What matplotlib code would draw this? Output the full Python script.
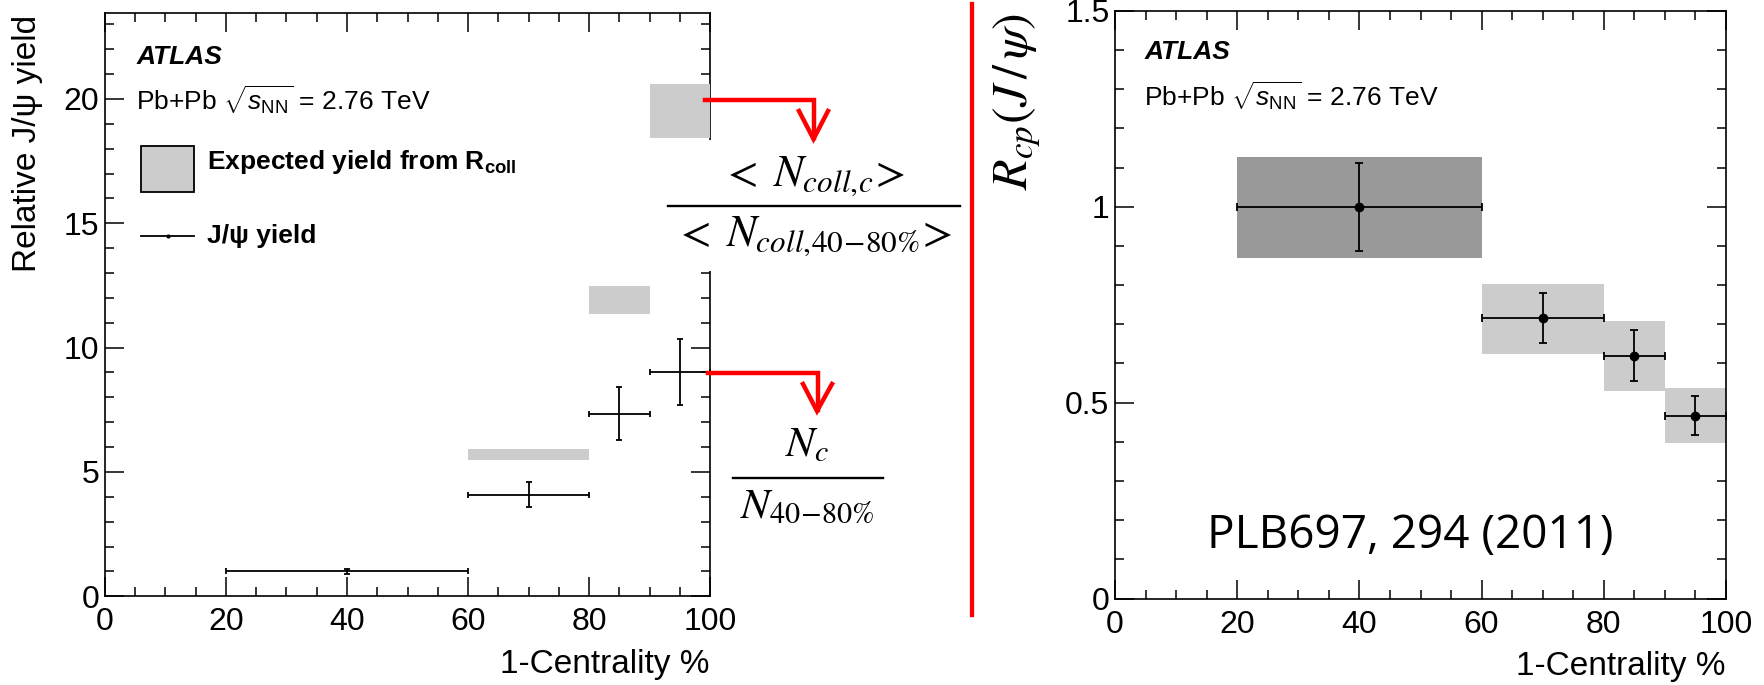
import matplotlib
matplotlib.use("Agg")
import matplotlib.pyplot as plt
import numpy as np
from matplotlib.lines import Line2D
from matplotlib.patches import Rectangle
from matplotlib.ticker import MultipleLocator, FormatStrFormatter

plt.rcParams['font.family'] = ['Liberation Sans', 'DejaVu Sans']
plt.rcParams['mathtext.fontset'] = 'custom'
plt.rcParams['mathtext.rm'] = 'Liberation Sans'
plt.rcParams['mathtext.it'] = 'Liberation Sans:italic'
plt.rcParams['mathtext.bf'] = 'Liberation Sans:bold'

# centrality bins (1-centrality %)
bin_lo = [20, 60, 80, 90]
bin_hi = [60, 80, 90, 100]
bin_mid = [40, 70, 85, 95]

# left panel: relative J/psi yield
yield_rel = [1.0, 4.08, 7.35, 9.02]
yield_err = [0.11, 0.50, 1.06, 1.32]

# expected yield from Rcoll (three central bins)
exp_lo = [60, 80, 90]
exp_hi = [80, 90, 100]
exp_ymin = [5.47, 11.34, 18.42]
exp_ymax = [5.94, 12.48, 20.58]

# right panel: Rcp(J/psi)
rcp = [1.0, 0.716, 0.620, 0.467]
rcp_err = [0.112, 0.064, 0.066, 0.050]
rcp_sys_lo = [0.868, 0.625, 0.530, 0.398]
rcp_sys_hi = [1.128, 0.803, 0.708, 0.537]
rcp_box_colors = ['#999999', '#cccccc', '#cccccc', '#cccccc']

W, H = 1764, 685
fig = plt.figure(figsize=(W / 100, H / 100), dpi=100)


def fx(px):
    return px / W


def fy(py):
    return 1 - py / H


ax1 = fig.add_axes([fx(104.7), fy(596.3), 605.6 / W, 583.2 / H])
ax2 = fig.add_axes([fx(1115), fy(598.5), 611 / W, 587.6 / H])

# ---- left panel ----
lo = np.array(exp_lo)
hi = np.array(exp_hi)
ax1.bar(lo, np.array(exp_ymax) - np.array(exp_ymin), width=hi - lo,
        bottom=exp_ymin, align='edge', color='#cccccc', zorder=3, clip_on=False)
mid = np.array(bin_mid)
ax1.errorbar(bin_mid, yield_rel, yerr=yield_err,
             xerr=[mid - np.array(bin_lo), np.array(bin_hi) - mid],
             fmt='none', ecolor='black', elinewidth=1.3, capsize=2.5,
             capthick=1.3, zorder=4)
ax1.set_xlim(0, 100)
ax1.set_ylim(0, 23.45)
ax1.yaxis.set_major_locator(MultipleLocator(5))
ax1.yaxis.set_minor_locator(MultipleLocator(1))

ax1.text(0.052, 0.925, 'ATLAS', transform=ax1.transAxes, fontsize=19,
         fontweight='bold', fontstyle='italic', va='center')
ax1.text(0.051, 0.851, r'Pb+Pb $\sqrt{s_{\rm NN}}$ = 2.76 TeV',
         transform=ax1.transAxes, fontsize=19, va='center')
ax1.add_patch(Rectangle((0.060, 0.693), 0.0875, 0.079, transform=ax1.transAxes,
                        facecolor='#cccccc', edgecolor='black', lw=1.3))
ax1.text(0.169, 0.744, r'Expected yield from $\mathbf{R_{coll}}$',
         transform=ax1.transAxes, fontsize=19, fontweight='bold', va='center')
ax1.add_line(Line2D([0.060, 0.10375, 0.1475], [0.618, 0.618, 0.618],
                    transform=ax1.transAxes, color='black', lw=1.3,
                    marker='o', ms=2, markevery=[1]))
ax1.text(0.169, 0.618, 'J/ψ yield', transform=ax1.transAxes,
         fontsize=19, fontweight='bold', va='center')

# ---- right panel ----
rlo = np.array(bin_lo)
rhi = np.array(bin_hi)
ax2.bar(rlo, np.array(rcp_sys_hi) - np.array(rcp_sys_lo), width=rhi - rlo,
        bottom=rcp_sys_lo, align='edge', color=rcp_box_colors, zorder=2)
ax2.errorbar(bin_mid, rcp, yerr=rcp_err, xerr=[mid - rlo, rhi - mid],
             fmt='o', color='black', ms=6, elinewidth=1.3, capsize=3,
             capthick=1.3, zorder=4)
ax2.set_xlim(0, 100)
ax2.set_ylim(0, 1.5)
ax2.yaxis.set_major_locator(MultipleLocator(0.5))
ax2.yaxis.set_minor_locator(MultipleLocator(0.1))
ax2.yaxis.set_major_formatter(FormatStrFormatter('%g'))

ax2.text(0.049, 0.930, 'ATLAS', transform=ax2.transAxes, fontsize=19,
         fontweight='bold', fontstyle='italic', va='center')
ax2.text(0.047, 0.855, r'Pb+Pb $\sqrt{s_{\rm NN}}$ = 2.76 TeV',
         transform=ax2.transAxes, fontsize=19, va='center')
ax2.text(0.484, 0.086, 'PLB697, 294 (2011)', transform=ax2.transAxes,
         fontsize=33, family=['Open Sans', 'DejaVu Sans'],
         ha='center', va='baseline')

for ax in (ax1, ax2):
    ax.xaxis.set_major_locator(MultipleLocator(20))
    ax.xaxis.set_minor_locator(MultipleLocator(5))
    ax.tick_params(which='both', direction='in', top=True, right=True,
                   width=1.1, labelsize=23)
    ax.tick_params(which='major', length=13.5)
    ax.tick_params(which='minor', length=6.5)
    ax.tick_params(axis='x', pad=8)
    ax.tick_params(axis='y', pad=4)
    for s in ax.spines.values():
        s.set_linewidth(1.2)

fig.text(fx(27.5), fy(15), 'Relative J/ψ yield', rotation=90,
         fontsize=24, ha='center', va='top')
fig.text(fx(709), fy(664), '1-Centrality %', fontsize=24, ha='right', va='center')
fig.text(fx(1725), fy(667), '1-Centrality %', fontsize=24, ha='right', va='center')
fig.text(fx(1017), fy(13), r'$R_{cp}(J\,/\,\psi)$', rotation=90, fontsize=36,
         math_fontfamily='stix', ha='center', va='top')

# white patch of the pasted equation that hides part of the left frame
fig.add_artist(Rectangle((fx(665), fy(271)), 300 / W, 131 / H,
                         transform=fig.transFigure, facecolor='white',
                         edgecolor='none', zorder=5))

# ratio equations
fig.text(fx(813), fy(186), r'$<\;N_{coll,\!c}\!>$', fontsize=32,
         math_fontfamily='stix', ha='center', va='baseline', zorder=6)
fig.add_artist(Line2D([fx(668), fx(960)], [fy(206), fy(206)], color='black',
                      lw=1.7, zorder=6))
fig.text(fx(813), fy(246), r'$<\;N_{coll,\!40\!-\!80\%}\!>$', fontsize=32,
         math_fontfamily='stix', ha='center', va='baseline', zorder=6)

fig.text(fx(807), fy(456), r'$N_c$', fontsize=31, math_fontfamily='stix',
         ha='center', va='baseline')
fig.add_artist(Line2D([fx(733), fx(883)], [fy(478), fy(478)], color='black',
                      lw=1.7))
fig.text(fx(807), fy(518), r'$N_{40\!-\!80\%}$', fontsize=31,
         math_fontfamily='stix', ha='center', va='baseline')

# red arrows and divider
red = '#ff0000'
arrow_paths = [
    ([705, 814, 814], [100, 100, 138]),
    ([799, 813.5, 828], [111, 139, 111]),
    ([708, 818, 818], [373, 373, 410]),
    ([803, 817, 832], [384, 411, 384]),
]
for xs, ys in arrow_paths:
    fig.add_artist(Line2D([fx(v) for v in xs], [fy(v) for v in ys], color=red,
                          lw=3.2, zorder=7, solid_joinstyle='miter'))
fig.add_artist(Line2D([fx(972), fx(972)], [fy(4), fy(615)], color=red, lw=3.1,
                      zorder=7))

fig.savefig('out.png', dpi=100)
